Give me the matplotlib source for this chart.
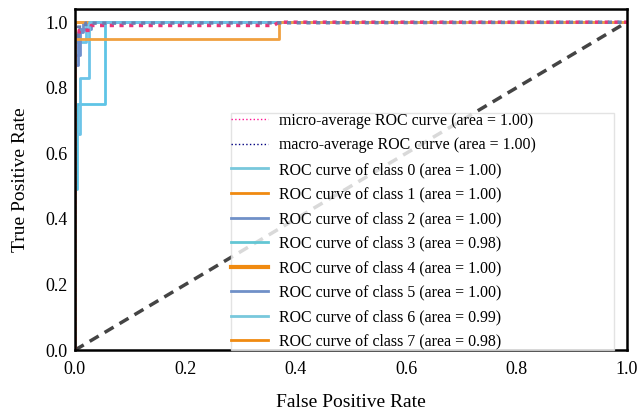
import matplotlib
matplotlib.use("Agg")
import matplotlib.pyplot as plt
from matplotlib.lines import Line2D

plt.rcParams['font.family'] = ['Liberation Serif', 'DejaVu Serif']

# ROC curves (fpr, tpr)
micro_fpr = [0, 0, 0.008, 0.008, 0.03, 0.03, 0.36, 0.37, 1]
micro_tpr = [0, 0.96, 0.96, 0.975, 0.975, 0.99, 0.99, 1.0, 1.0]
macro_fpr = [0, 0, 0.006, 0.006, 0.02, 0.02, 1]
macro_tpr = [0, 0.95, 0.95, 0.985, 0.985, 0.997, 1.0]

class_fpr = [
    [0, 0, 0.02, 0.02, 1],
    [0, 0, 1],
    [0, 0, 0.005, 0.005, 0.015, 0.015, 1],
    [0, 0, 0.004, 0.004, 0.055, 0.055, 1],
    [0, 0, 1],
    [0, 0, 0.01, 0.01, 0.03, 0.03, 1],
    [0, 0, 0.009, 0.009, 0.025, 0.025, 1],
    [0, 0, 0.37, 0.37, 1],
]
class_tpr = [
    [0, 0.94, 0.94, 1.0, 1.0],
    [0, 1.0, 1.0],
    [0, 0.87, 0.87, 0.97, 0.97, 1.0, 1.0],
    [0, 0.49, 0.49, 0.75, 0.75, 1.0, 1.0],
    [0, 1.0, 1.0],
    [0, 0.9, 0.9, 0.98, 0.98, 1.0, 1.0],
    [0, 0.66, 0.66, 0.83, 0.83, 1.0, 1.0],
    [0, 0.95, 0.95, 1.0, 1.0],
]
class_auc = ['1.00', '1.00', '1.00', '0.98', '1.00', '1.00', '0.99', '0.98']
class_colors = ['#6cc4e8', '#f0a040', '#6f8fcc', '#5ec4e6',
                '#f0a040', '#6f8fcc', '#6cc4e8', '#f0a040']
legend_colors = ['#78c8dc', '#f08a10', '#7090c8', '#62c6d4',
                 '#f08a10', '#7090c8', '#78c8dc', '#f08a10']

fig = plt.figure(figsize=(6.39, 4.12), dpi=100)
ax = fig.add_axes([0.117, 0.150, 0.864, 0.828])

ax.plot([0, 1], [0, 1], color='#444444', lw=2.5, ls=(0, (3, 2)))
for i in range(8):
    ax.plot(class_fpr[i], class_tpr[i], color=class_colors[i], lw=2)
ax.plot(micro_fpr, micro_tpr, color='#e8357a', lw=2.5, ls=(0, (1.2, 1.6)))
ax.plot(macro_fpr, macro_tpr, color='#6a7fb0', lw=2.5, ls=(1.5, (1.2, 1.6)))

handles = [Line2D([], [], color='#ff1493', lw=1, ls=':'),
           Line2D([], [], color='navy', lw=1, ls=':')]
labels = ['micro-average ROC curve (area = 1.00)',
          'macro-average ROC curve (area = 1.00)']
for i in range(8):
    handles.append(Line2D([], [], color=legend_colors[i], lw=3 if i == 4 else 2))
    labels.append('ROC curve of class {} (area = {})'.format(i, class_auc[i]))

leg = ax.legend(handles, labels, loc='lower left',
                bbox_to_anchor=(0.2826, 0.0, 0.695, 0.5), mode='expand',
                borderaxespad=0, fontsize=11.4, labelspacing=0.54,
                handlelength=2.3, handletextpad=0.7, borderpad=0.02,
                fancybox=False, framealpha=0.8, edgecolor='#dddddd')

ax.set_xlim(0, 1.0)
ax.set_ylim(0, 1.04)
ax.set_xticks([0, 0.2, 0.4, 0.6, 0.8, 1.0])
ax.set_yticks([0, 0.2, 0.4, 0.6, 0.8, 1.0])
ax.tick_params(length=0, labelsize=13, pad=5)
ax.tick_params(axis='x', pad=8)
for s in ax.spines.values():
    s.set_linewidth(1.8)
ax.set_xlabel('False Positive Rate', fontsize=14, labelpad=11)
ax.set_ylabel('True Positive Rate', fontsize=14, labelpad=12)

fig.savefig('out.png', dpi=100)
